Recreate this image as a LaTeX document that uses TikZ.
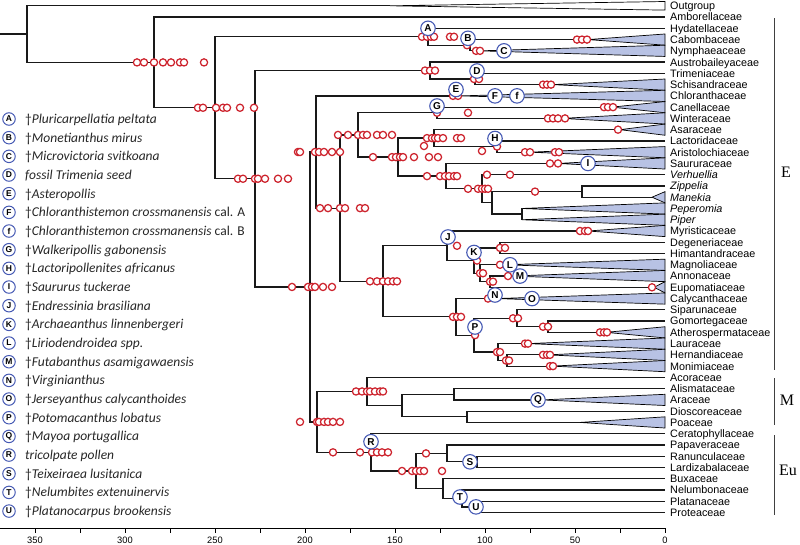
\documentclass[tikz,border=0pt]{standalone}
\usepackage{fontspec}
\newfontfamily\arial{Liberation Sans}
\newfontfamily\cali{Carlito}
\newfontfamily\tnr{Liberation Serif}
\definecolor{redc}{RGB}{205,35,45}
\definecolor{bluec}{RGB}{70,90,180}
\definecolor{trifill}{RGB}{184,194,228}
\begin{document}
\begin{tikzpicture}[x=1pt,y=-1pt,
  br/.style={line width=1.25pt, black!90},
  trist/.style={fill=trifill, draw=black, line width=0.7pt},
  rc/.style={draw=redc, fill=white, line width=1.25pt},
  bc/.style={circle, draw=bluec, fill=white, line width=1.1pt, minimum size=14.5pt, inner sep=0pt, font=\arial\bfseries\fontsize{10}{10}\selectfont},
  lbc/.style={circle, draw=bluec, fill=white, line width=1pt, minimum size=12.5pt, inner sep=0pt, font=\arial\bfseries\fontsize{8.5}{9}\selectfont},
  lab/.style={anchor=base west, inner sep=0pt, font=\arial\fontsize{10.8}{12}\selectfont},
  leg/.style={anchor=base west, inner sep=0pt, text=black!85, font=\cali\fontsize{13.5}{15}\selectfont},
  cl/.style={font=\tnr\fontsize{16}{18}\selectfont, inner sep=0pt},
  axl/.style={anchor=base, inner sep=0pt, font=\arial\fontsize{9.3}{10}\selectfont},
  bar/.style={line width=0.8pt, black!75}
  ]
\useasboundingbox (0,0) rectangle (800,544);
% leaf positions
\foreach \i in {0,...,45} \coordinate (t\i) at (665,5.8+11.26*\i);
% internal nodes
\coordinate (rootstub) at (0,34.1);
\coordinate (root) at (27,34.1);
\coordinate (angio) at (154,62.41);
\coordinate (n215) at (215,107.76);
\coordinate (nymph) at (428,36.77);
\coordinate (cn) at (470,45.21);
\coordinate (n255) at (255,178.75);
\coordinate (austro) at (430,70.55);
\coordinate (ts) at (475,78.99);
\coordinate (meso) at (310,286.95);
\coordinate (cm) at (316,152.0);
\coordinate (magd) at (340,208.13);
\coordinate (cp) at (358,134.94);
\coordinate (canel) at (437,112.77);
\coordinate (piper) at (398,157.1);
\coordinate (arsl) at (434,138.1);
\coordinate (la) at (497,146.55);
\coordinate (sp) at (446,176.11);
\coordinate (pipc) at (482,188.78);
\coordinate (zmpp) at (492,202.85);
\coordinate (zm) at (582,191.59);
\coordinate (pp) at (522,214.11);
\coordinate (ml) at (383,281.32);
\coordinate (magn) at (447,245.78);
\coordinate (kn) at (474,260.56);
\coordinate (dh) at (500,247.89);
\coordinate (mae) at (480,273.23);
\coordinate (ae) at (490,281.67);
\coordinate (laur) at (456,316.86);
\coordinate (sga) at (517,318.27);
\coordinate (ga) at (548,326.71);
\coordinate (corel) at (474,335.16);
\coordinate (lhm) at (498,352.05);
\coordinate (hm) at (507,360.49);
\coordinate (mce) at (317,421.9);
\coordinate (mono) at (367,391.46);
\coordinate (cmono) at (402,405.53);
\coordinate (aa) at (454,394.27);
\coordinate (dp) at (467,416.79);
\coordinate (ce) at (371,452.33);
\coordinate (eud) at (416,470.98);
\coordinate (ranu) at (447,453.39);
\coordinate (rl) at (477,461.83);
\coordinate (coree) at (443,488.58);
\coordinate (prot) at (462,498.43);
\coordinate (plpr) at (480,506.87);
% outgroup triangle
\coordinate (a0) at (390,5.8);
\filldraw[fill=white, draw=black, line width=0.7pt] (a0) -- ([yshift=4.3pt]t0) -- ([yshift=-4.3pt]t0) -- cycle;
% collapsed clades
\foreach \i/\ax in {3/588,4/480,7/553,8/460,9/612,10/562,11/620,13/530,14/558,17/652,18/522,19/522,20/588,23/505,24/512,25/654,26/497,29/606,30/528,31/548,32/552,35/542,37/580}{
  \coordinate (a\i) at (\ax,5.8+11.26*\i);
  \filldraw[trist] (a\i) -- ([yshift=5.6pt]t\i) -- ([yshift=-5.6pt]t\i) -- cycle;
}
% branches
\draw[br] (rootstub) -- (root);
\foreach \p/\c in {root/a0,root/angio,angio/t1,angio/n215,n215/nymph,n215/n255,
  nymph/t2,nymph/cn,cn/a3,cn/a4,n255/austro,n255/meso,austro/t5,austro/ts,ts/t6,ts/a7,
  meso/cm,meso/mce,cm/a8,cm/magd,magd/cp,magd/ml,cp/canel,cp/piper,canel/a9,canel/a10,
  piper/arsl,piper/sp,arsl/a11,arsl/la,la/t12,la/a13,sp/a14,sp/pipc,pipc/t15,pipc/zmpp,
  zmpp/zm,zmpp/pp,zm/t16,zm/a17,pp/a18,pp/a19,ml/magn,ml/laur,magn/a20,magn/kn,kn/dh,kn/mae,
  dh/t21,dh/t22,mae/a23,mae/ae,ae/a24,ae/a25,laur/a26,laur/corel,corel/sga,corel/lhm,
  sga/t27,sga/ga,ga/t28,ga/a29,lhm/a30,lhm/hm,hm/a31,hm/a32,mce/mono,mce/ce,mono/t33,mono/cmono,
  cmono/aa,cmono/dp,aa/t34,aa/a35,dp/t36,dp/a37,ce/t38,ce/eud,eud/ranu,eud/coree,ranu/t39,ranu/rl,
  rl/t40,rl/t41,coree/t42,coree/prot,prot/t43,prot/plpr,plpr/t44,plpr/t45}
  \draw[br] (\p) |- (\c);
% age estimates (red circles)
\foreach \y/\xs in {62.41/{137,144,154,163,171,180,184,204},
  107.76/{198,203,216,223,227,240,254},
  178.75/{238,243,255,258,265,278,288},
  286.95/{292,308,312,315,323,332},
  152.0/{298,300,315,319,324,332,340},
  208.13/{320,328,340,345,360,365},
  134.94/{338,348,358,363,367,377,383,392},
  157.1/{373,392,396,400,403,414,429,438},
  138.1/{427,432,435,438,443,457,461},
  146/{424},
  281.32/{370,377,383,388,393,397},
  421.9/{300,317,319,324,328,333,340},
  391.46/{356,362,367,370,375,380,383},
  452.33/{333,360,372,377,382,388},
  470.98/{402,412,416,420,424,442},
  36.77/{422,427,431,434,450,454},
  45.21/{467},
  50.84/{476,480},
  39.58/{577,582,587},
  70.55/{425,430,435},
  78.99/{474,479},
  84.62/{543,547,551},
  95.88/{453,458},
  112.77/{437,468},
  107.14/{604,608,613},
  118.4/{548,553,558,565},
  129.66/{618},
  146.55/{497},
  151/{482},
  152.18/{525,530,555,559},
  176.11/{427,440,445,449,454,457},
  163.44/{550,558},
  188.78/{468,478,482,485,488},
  191.59/{535},
  174.7/{487,510},
  245.78/{457},
  231.0/{580,585,588},
  247.89/{500,505},
  260.56/{477},
  273.23/{480,483},
  264.78/{500},
  281.67/{490,493},
  276.04/{508},
  287.3/{652},
  298.56/{488},
  316.86/{453,457,461},
  318.27/{513,518},
  326.71/{543,548},
  332.34/{600,604,607},
  335.16/{475},
  352.05/{497,500},
  343.6/{525,528},
  360.49/{506,509},
  354.86/{543,547,550},
  366.12/{550,553},
  453.39/{426}}
  { \foreach \x in \xs \draw[rc] (\x,\y) circle[radius=3.6pt]; }
% fossil calibrations (blue circles)
\node[bc] (fA) at (428,28.3) {A};
\node[bc] (fB) at (468,38.3) {B};
\node[bc] (fC) at (504,50.84) {C};
\node[bc] (fD) at (477,71) {D};
\node[bc] (fE) at (456,89.5) {E};
\node[bc] (fF) at (495,95.88) {F};
\node[bc] (ff) at (517,95.88) {f};
\node[bc] (fG) at (437,106) {G};
\node[bc] (fH) at (495,138.5) {H};
\node[bc] (fI) at (588,163.44) {I};
\node[bc] (fJ) at (448,237) {J};
\node[bc] (fK) at (474,252.5) {K};
\node[bc] (fL) at (510,264.78) {L};
\node[bc] (fM) at (520,276.04) {M};
\node[bc] (fN) at (495,295) {N};
\node[bc] (fO) at (532,298.56) {O};
\node[bc] (fP) at (475,327) {P};
\node[bc] (fQ) at (538,399.9) {Q};
\node[bc] (fR) at (371,441.7) {R};
\node[bc] (fS) at (470,461.83) {S};
\node[bc] (fT) at (460,497) {T};
\node[bc] (fU) at (476,506.87) {U};
% taxon labels
\foreach \i/\nm in {0/Outgroup,1/Amborellaceae,2/Hydatellaceae,3/Cabombaceae,4/Nymphaeaceae,
  5/Austrobaileyaceae,6/Trimeniaceae,7/Schisandraceae,8/Chloranthaceae,9/Canellaceae,
  10/Winteraceae,11/Asaraceae,12/Lactoridaceae,13/Aristolochiaceae,14/Saururaceae,
  15/{\textit{Verhuellia}},16/{\textit{Zippelia}},17/{\textit{Manekia}},18/{\textit{Peperomia}},
  19/{\textit{Piper}},20/Myristicaceae,21/Degeneriaceae,22/Himantandraceae,23/Magnoliaceae,
  24/Annonaceae,25/Eupomatiaceae,26/Calycanthaceae,27/Siparunaceae,28/Gomortegaceae,
  29/Atherospermataceae,30/Lauraceae,31/Hernandiaceae,32/Monimiaceae,33/Acoraceae,
  34/Alismataceae,35/Araceae,36/Dioscoreaceae,37/Poaceae,38/Ceratophyllaceae,39/Papaveraceae,
  40/Ranunculaceae,41/Lardizabalaceae,42/Buxaceae,43/Nelumbonaceae,44/Platanaceae,45/Proteaceae}
  \node[lab] (L\i) at ([xshift=5pt,yshift=-3.9pt]t\i) {\nm};
% clade bars
\coordinate (eb1) at (774,18); \coordinate (eb2) at (774,370);
\coordinate (mb1) at (774,378); \coordinate (mb2) at (774,425);
\coordinate (ub1) at (774,435); \coordinate (ub2) at (774,515);
\draw[bar] (eb1) -- (eb2);
\draw[bar] (mb1) -- (mb2);
\draw[bar] (ub1) -- (ub2);
\node[cl] (cE) at (786,172) {E};
\node[cl] (cM) at (787,400) {M};
\node[cl] (cEu) at (788,470) {Eu};
% axis
\coordinate (ax0) at (0,528); \coordinate (ax1) at (665,528);
\draw[line width=0.9pt] (ax0) -- (ax1);
\foreach \k in {0,...,14} \draw[line width=0.8pt] (665-45*\k,528) -- (665-45*\k,533);
\foreach \v in {0,50,100,150,200,250,300,350} \node[axl] (tk\v) at (665-1.8*\v,543.5) {\v};
% legend
\foreach \k/\txt [count=\n from 0] in {
  A/{†\textit{Pluricarpellatia peltata}},
  B/{†\textit{Monetianthus mirus}},
  C/{†\textit{Microvictoria svitkoana}},
  D/{\textit{fossil Trimenia seed}},
  E/{†\textit{Asteropollis}},
  F/{†\textit{Chloranthistemon crossmanensis} cal. A},
  f/{†\textit{Chloranthistemon crossmanensis} cal. B},
  G/{†\textit{Walkeripollis gabonensis}},
  H/{†\textit{Lactoripollenites africanus}},
  I/{†\textit{Saururus tuckerae}},
  J/{†\textit{Endressinia brasiliana}},
  K/{†\textit{Archaeanthus linnenbergeri}},
  L/{†\textit{Liriodendroidea spp.}},
  M/{†\textit{Futabanthus asamigawaensis}},
  N/{†\textit{Virginianthus}},
  O/{†\textit{Jerseyanthus calycanthoides}},
  P/{†\textit{Potomacanthus lobatus}},
  Q/{†\textit{Mayoa portugallica}},
  R/{\textit{tricolpate pollen}},
  S/{†\textit{Teixeiraea lusitanica}},
  T/{†\textit{Nelumbites extenuinervis}},
  U/{†\textit{Platanocarpus brookensis}}}
{
  \node[lbc] (k\k) at (9,119+18.67*\n) {\k};
  \node[leg] (g\k) at (25,119+18.67*\n+4.5) {\txt};
}
\end{tikzpicture}
\end{document}
